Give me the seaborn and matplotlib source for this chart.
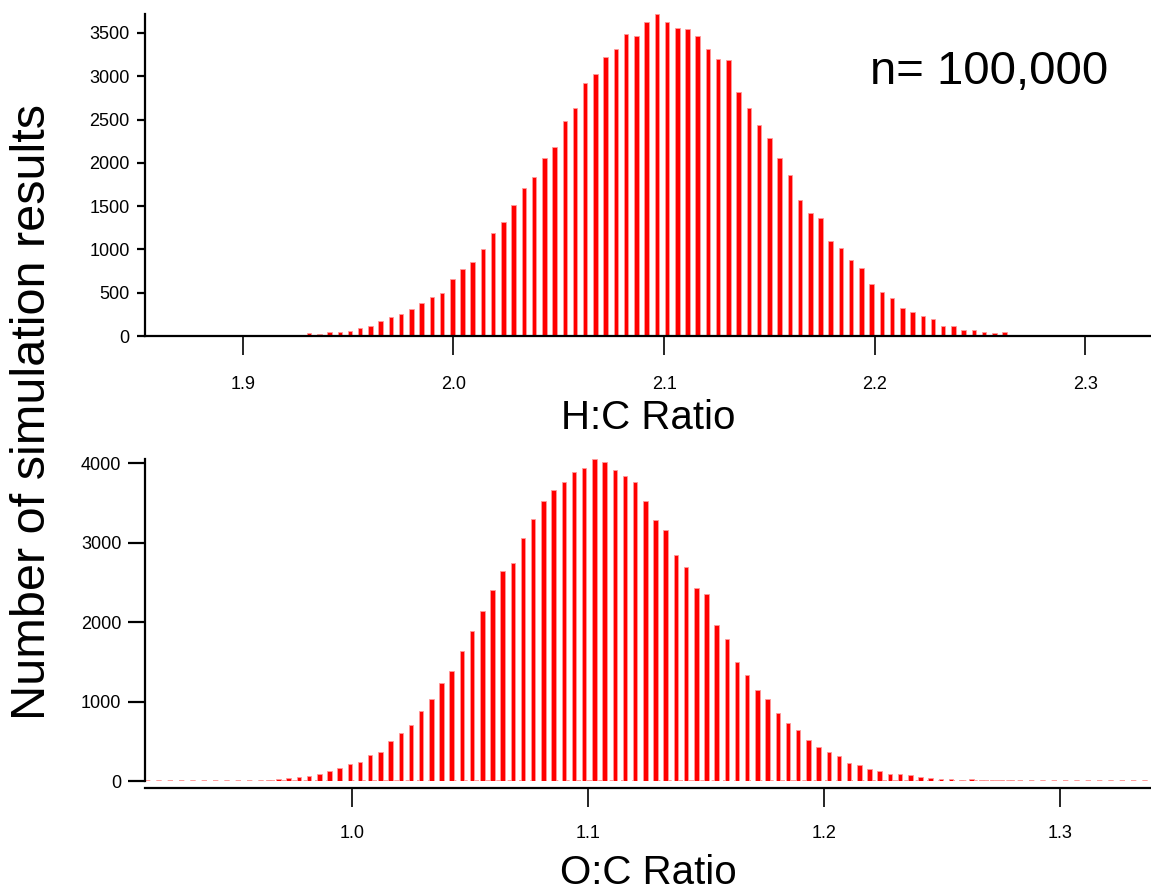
import numpy as np
import pandas as pd
import matplotlib
matplotlib.use("Agg")
import matplotlib.pyplot as plt
import seaborn as sns

# Histogram counts of the Monte Carlo runs (100,000 simulations)
hc_first_center = 1.9169   # centre of first H:C bin
hc_bin_width = 0.004855
hc_counts = [5, 12, 15, 31, 23, 50, 50, 58, 97, 120, 170, 224, 251, 317, 382,
             452, 494, 653, 773, 854, 1004, 1190, 1313, 1518, 1707, 1839, 2055,
             2183, 2488, 2638, 2924, 3025, 3226, 3314, 3484, 3469, 3623, 3716,
             3631, 3554, 3542, 3461, 3314, 3199, 3183, 2820, 2638, 2434, 2287,
             2051, 1858, 1576, 1422, 1360, 1101, 1012, 877, 784, 599, 510, 437,
             328, 278, 236, 197, 120, 112, 73, 66, 50, 35, 42, 15, 4]

oc_first_center = 0.9647   # centre of first O:C bin
oc_bin_width = 0.004314
oc_counts = [12, 22, 34, 50, 67, 84, 126, 159, 210, 243, 327, 369, 499, 600,
             701, 886, 1032, 1238, 1381, 1641, 1889, 2145, 2401, 2640, 2741,
             3055, 3295, 3525, 3660, 3761, 3895, 3945, 4050, 4021, 3920, 3840,
             3769, 3530, 3286, 3160, 2841, 2694, 2426, 2350, 1960, 1792, 1498,
             1339, 1146, 1028, 860, 726, 642, 512, 424, 361, 319, 227, 197, 155,
             122, 88, 84, 76, 50, 42, 25, 25, 17, 25, 12, 12, 12, 8, 4]

hc_xlim = (1.8536, 2.3311)
oc_xlim = (0.9125, 1.3384)
hc_xticks = [1.9, 2.0, 2.1, 2.2, 2.3]
oc_xticks = [1.0, 1.1, 1.2, 1.3]
hc_yticks = [0, 500, 1000, 1500, 2000, 2500, 3000, 3500]
oc_yticks = [0, 1000, 2000, 3000, 4000]

sns.set_theme(style="ticks")
plt.rcParams["font.family"] = ["Liberation Sans", "DejaVu Sans"]
plt.rcParams["text.color"] = "black"
plt.rcParams["axes.labelcolor"] = "black"
plt.rcParams["xtick.color"] = "black"
plt.rcParams["ytick.color"] = "black"

fig = plt.figure(figsize=(11.51, 8.92), dpi=100)
ax1 = fig.add_axes([0.126, 0.6233, 0.874, 0.3607])
ax2 = fig.add_axes([0.126, 0.1244, 0.874, 0.3607])


def draw_hist(ax, first_center, width, counts):
    counts = np.asarray(counts, dtype=float)
    centers = first_center + width * np.arange(len(counts))
    edges = first_center - width / 2 + width * np.arange(len(counts) + 1)
    df = pd.DataFrame({"ratio": centers, "count": counts})
    # zero baseline made of empty bins
    ax.axhline(0, color="#ff8a8a", lw=1.2, dashes=(3.2, 3.6), zorder=0.5)
    sns.histplot(data=df, x="ratio", weights="count", bins=[float(e) for e in edges],
                 shrink=0.44, color="#ff0000", edgecolor="#ff9a9a",
                 linewidth=0.6, alpha=1.0, ax=ax, zorder=2)
    ax.set_ylim(0, counts.max())


draw_hist(ax1, hc_first_center, hc_bin_width, hc_counts)
draw_hist(ax2, oc_first_center, oc_bin_width, oc_counts)

for ax, xlim, xt, yt in [(ax1, hc_xlim, hc_xticks, hc_yticks),
                         (ax2, oc_xlim, oc_xticks, oc_yticks)]:
    ax.set_xlim(*xlim)
    ax.set_xticks(xt)
    ax.set_xticklabels([f"{v:.1f}" for v in xt])
    ax.set_yticks(yt)
    ax.set_yticklabels([str(v) for v in yt])
    for side in ("top", "right"):
        ax.spines[side].set_visible(False)
    for side in ("left", "bottom"):
        ax.spines[side].set_linewidth(1.6)
        ax.spines[side].set_color("black")
    ax.set_ylabel("")
    ax.set_facecolor("white")

ax1.tick_params(axis="x", direction="out", length=14, width=1.2,
                pad=15, labelsize=13, colors="black")
ax2.tick_params(axis="x", direction="out", length=14, width=1.2,
                pad=13, labelsize=13, colors="black")
ax1.tick_params(axis="y", direction="out", length=6, width=1.6, pad=5,
                labelsize=13, colors="black")
ax2.tick_params(axis="y", direction="out", length=12, width=1.6, pad=5,
                labelsize=13, colors="black")
ax2.spines["bottom"].set_position(("outward", 5))

ax1.set_xlabel("H:C Ratio", fontsize=29, labelpad=4, color="black")
ax2.set_xlabel("O:C Ratio", fontsize=29, labelpad=8, color="black")

fig.text(0.028, 0.538, "Number of simulation results", rotation=90,
         fontsize=35, ha="center", va="center", color="black")
fig.text(0.756, 0.906, "n= 100,000", fontsize=34, ha="left", va="baseline",
         color="black")

fig.savefig("out.png", dpi=100, facecolor="white")
